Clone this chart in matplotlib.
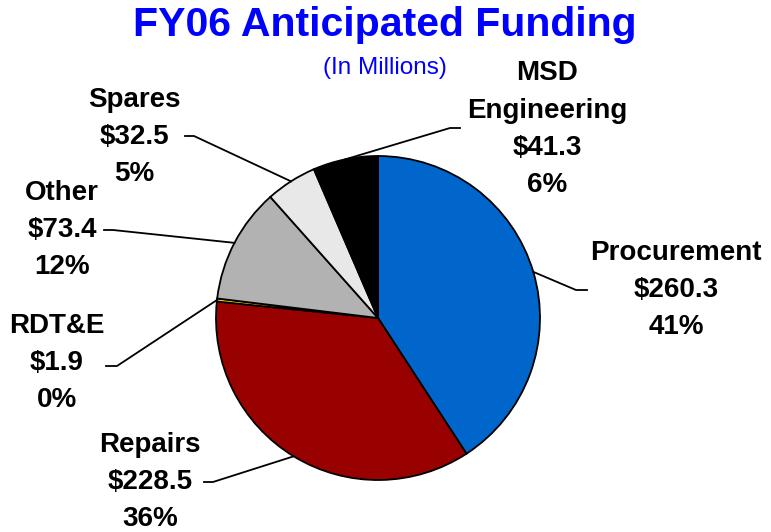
import numpy as np
import matplotlib.pyplot as plt

names = ['Procurement', 'Repairs', 'RDT&E', 'Other', 'Spares', 'MSD\nEngineering']
values = [260.3, 228.5, 1.9, 73.4, 32.5, 41.3]
colors = ['#0066CC', '#990000', '#FFCC00', '#B2B2B2', '#E8E8E8', '#000000']

# label layout in pixel coords (x, y from top), elbow x, end x of short tick
label_pos = [(676, 290), (150, 482), (57, 363), (62, 230), (134, 137), (547, 129)]
elbow = [(576, 290), (213, 482), (117, 366), (113, 230), (194, 136), (450, 128)]
tick_end = [587, 204, 106, 104, 185, 460]

W, H = 771, 532
cx, cy, R = 378, 318, 162

plt.rcParams['font.family'] = ['Liberation Sans', 'DejaVu Sans']

fig = plt.figure(figsize=(W / 100, H / 100), dpi=100)
ax = fig.add_axes([0, 0, 1, 1])

wedges, _ = ax.pie(values, colors=colors, startangle=90, counterclock=False,
                   center=(cx, H - cy), radius=R, frame=True,
                   wedgeprops=dict(edgecolor='black', linewidth=1.3))
ax.set_xlim(0, W)
ax.set_ylim(0, H)
ax.set_aspect('equal')
ax.axis('off')

total = sum(values)
for i, w in enumerate(wedges):
    mid = np.deg2rad((w.theta1 + w.theta2) / 2)
    px = cx + R * np.cos(mid)
    py = H - cy + R * np.sin(mid)
    ex, ey = elbow[i]
    ax.plot([px, ex, tick_end[i]], [py, H - ey, H - ey], color='black', lw=1.3)
    pct = round(values[i] / total * 100)
    txt = f'{names[i]}\n${values[i]:.1f}\n{pct}%'
    lx, ly = label_pos[i]
    ax.text(lx, H - ly, txt, ha='center', va='center', fontsize=20,
            fontweight='bold', linespacing=1.55)

fig.text(385 / W, 1 - 25 / H, 'FY06 Anticipated Funding', ha='center', va='center',
         fontsize=29.5, fontweight='bold', color='#0000FF')
fig.text(385 / W, 1 - 68 / H, '(In Millions)', ha='center', va='center',
         fontsize=17.5, color='#0000FF')

fig.savefig('out.png', dpi=100)
